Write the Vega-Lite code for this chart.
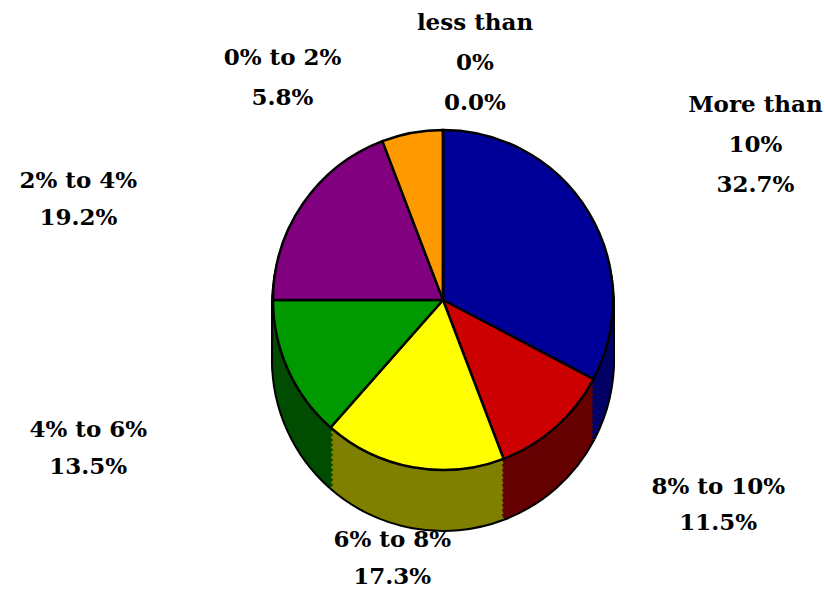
{
  "$schema": "https://vega.github.io/schema/vega-lite/v6.json",
  "width": 764,
  "height": 584,
  "autosize": {"type": "none"},
  "padding": {"left": 61, "top": 8, "right": 0, "bottom": 0},
  "background": "white",
  "view": {"stroke": null},
  "data": {"values": [
    {"idx": 1, "category": "More than 10%", "share": 32.7},
    {"idx": 2, "category": "8% to 10%", "share": 11.5},
    {"idx": 3, "category": "6% to 8%", "share": 17.3},
    {"idx": 4, "category": "4% to 6%", "share": 13.5},
    {"idx": 5, "category": "2% to 4%", "share": 19.2},
    {"idx": 6, "category": "0% to 2%", "share": 5.8},
    {"idx": 7, "category": "less than 0%", "share": 0.0}
  ]},
  "transform": [
    {"stack": "share", "groupby": [], "sort": [{"field": "idx", "order": "ascending"}], "as": ["s0", "s1"]},
    {"calculate": "(datum.s0 + datum.s1) / 2", "as": "mid"},
    {"calculate": "replace(replace(datum.category, 'More than ', 'More than\\n'), 'less than ', 'less than\\n') + '\\n' + format(datum.share, '.1f') + '%'", "as": "label"}
  ],
  "layer": [
    {
      "encoding": {
        "theta": {"field": "s0", "type": "quantitative", "scale": {"domain": [0, 100]}},
        "theta2": {"field": "s1"}
      },
      "layer": [
        {"mark": {"type": "arc", "radius": 172, "yOffset": 60, "fill": "black"}},
        {"mark": {"type": "arc", "radius": 172, "yOffset": 55, "fill": "black"}},
        {"mark": {"type": "arc", "radius": 172, "yOffset": 50, "fill": "black"}},
        {"mark": {"type": "arc", "radius": 172, "yOffset": 45, "fill": "black"}},
        {"mark": {"type": "arc", "radius": 172, "yOffset": 40, "fill": "black"}},
        {"mark": {"type": "arc", "radius": 172, "yOffset": 35, "fill": "black"}},
        {"mark": {"type": "arc", "radius": 172, "yOffset": 30, "fill": "black"}},
        {"mark": {"type": "arc", "radius": 172, "yOffset": 25, "fill": "black"}},
        {"mark": {"type": "arc", "radius": 172, "yOffset": 20, "fill": "black"}},
        {"mark": {"type": "arc", "radius": 172, "yOffset": 15, "fill": "black"}},
        {"mark": {"type": "arc", "radius": 172, "yOffset": 10, "fill": "black"}},
        {"mark": {"type": "arc", "radius": 172, "yOffset": 5, "fill": "black"}},

        {"mark": {"type": "arc", "radius": 170, "yOffset": 60}, "encoding": {"fill": {"field": "category", "type": "nominal", "legend": null, "scale": {"domain": ["More than 10%", "8% to 10%", "6% to 8%", "4% to 6%", "2% to 4%", "0% to 2%", "less than 0%"], "range": ["#000066", "#660000", "#808000", "#004c00", "#400040", "#804c00", "#333333"]}}}},
        {"mark": {"type": "arc", "radius": 170, "yOffset": 55}, "encoding": {"fill": {"field": "category", "type": "nominal", "legend": null}}},
        {"mark": {"type": "arc", "radius": 170, "yOffset": 50}, "encoding": {"fill": {"field": "category", "type": "nominal", "legend": null}}},
        {"mark": {"type": "arc", "radius": 170, "yOffset": 45}, "encoding": {"fill": {"field": "category", "type": "nominal", "legend": null}}},
        {"mark": {"type": "arc", "radius": 170, "yOffset": 40}, "encoding": {"fill": {"field": "category", "type": "nominal", "legend": null}}},
        {"mark": {"type": "arc", "radius": 170, "yOffset": 35}, "encoding": {"fill": {"field": "category", "type": "nominal", "legend": null}}},
        {"mark": {"type": "arc", "radius": 170, "yOffset": 30}, "encoding": {"fill": {"field": "category", "type": "nominal", "legend": null}}},
        {"mark": {"type": "arc", "radius": 170, "yOffset": 25}, "encoding": {"fill": {"field": "category", "type": "nominal", "legend": null}}},
        {"mark": {"type": "arc", "radius": 170, "yOffset": 20}, "encoding": {"fill": {"field": "category", "type": "nominal", "legend": null}}},
        {"mark": {"type": "arc", "radius": 170, "yOffset": 15}, "encoding": {"fill": {"field": "category", "type": "nominal", "legend": null}}},
        {"mark": {"type": "arc", "radius": 170, "yOffset": 10}, "encoding": {"fill": {"field": "category", "type": "nominal", "legend": null}}},
        {"mark": {"type": "arc", "radius": 170, "yOffset": 5}, "encoding": {"fill": {"field": "category", "type": "nominal", "legend": null}}},

        {"mark": {"type": "arc", "radius": 170, "stroke": "black", "strokeWidth": 2.5, "strokeJoin": "round"}, "encoding": {"color": {"field": "category", "type": "nominal", "legend": null, "scale": {"domain": ["More than 10%", "8% to 10%", "6% to 8%", "4% to 6%", "2% to 4%", "0% to 2%", "less than 0%"], "range": ["#000099", "#cc0000", "#ffff00", "#009900", "#800080", "#ff9900", "#999999"]}}}}
      ]
    },
    {
      "encoding": {
        "theta": {"field": "mid", "type": "quantitative"},
        "text": {"field": "label", "type": "nominal"}
      },
      "layer": [
        {"transform": [{"filter": "datum.idx == 1"}], "mark": {"type": "text", "radius": 240, "dx": 107, "dy": -71, "lineBreak": "\n", "font": "DejaVu Serif", "fontSize": 23, "fontWeight": "bold", "lineHeight": 40, "color": "black", "align": "center", "baseline": "middle"}},
        {"transform": [{"filter": "datum.idx == 2"}], "mark": {"type": "text", "radius": 240, "dx": 116, "dy": 7, "lineBreak": "\n", "font": "DejaVu Serif", "fontSize": 23, "fontWeight": "bold", "lineHeight": 36, "color": "black", "align": "center", "baseline": "middle"}},
        {"transform": [{"filter": "datum.idx == 3"}], "mark": {"type": "text", "radius": 240, "dx": -8, "dy": 4, "lineBreak": "\n", "font": "DejaVu Serif", "fontSize": 23, "fontWeight": "bold", "lineHeight": 37, "color": "black", "align": "center", "baseline": "middle"}},
        {"transform": [{"filter": "datum.idx == 4"}], "mark": {"type": "text", "radius": 240, "dx": -136, "dy": 31, "lineBreak": "\n", "font": "DejaVu Serif", "fontSize": 23, "fontWeight": "bold", "lineHeight": 37, "color": "black", "align": "center", "baseline": "middle"}},
        {"transform": [{"filter": "datum.idx == 5"}], "mark": {"type": "text", "radius": 240, "dx": -167, "dy": 17, "lineBreak": "\n", "font": "DejaVu Serif", "fontSize": 23, "fontWeight": "bold", "lineHeight": 37, "color": "black", "align": "center", "baseline": "middle"}},
        {"transform": [{"filter": "datum.idx == 6"}], "mark": {"type": "text", "radius": 240, "dx": -117, "dy": -6, "lineBreak": "\n", "font": "DejaVu Serif", "fontSize": 23, "fontWeight": "bold", "lineHeight": 40, "color": "black", "align": "center", "baseline": "middle"}},
        {"transform": [{"filter": "datum.idx == 7"}], "mark": {"type": "text", "radius": 240, "dx": 32, "dy": -37, "lineBreak": "\n", "font": "DejaVu Serif", "fontSize": 23, "fontWeight": "bold", "lineHeight": 40, "color": "black", "align": "center", "baseline": "middle"}}
      ]
    }
  ]
}
